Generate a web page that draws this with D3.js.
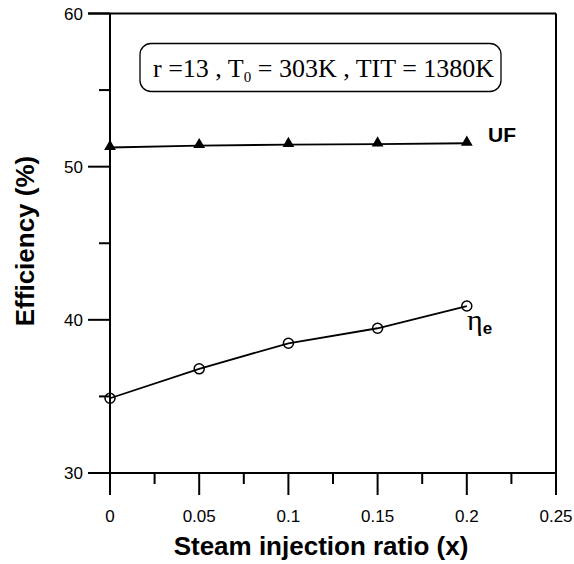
<!DOCTYPE html>
<html>
<head>
<meta charset="utf-8">
<script src="https://cdn.jsdelivr.net/npm/d3@7"></script>
<style>
  body { margin: 0; background: #fff; }
</style>
</head>
<body>
<svg id="svg" width="574" height="564" font-family="Arial, 'Liberation Sans', sans-serif"></svg>
<script>
// data
var steamRatio = [0, 0.05, 0.1, 0.15, 0.2];
var ufValues = [51.25, 51.37, 51.44, 51.47, 51.53];
var etaValues = [34.88, 36.8, 38.47, 39.45, 40.9];
var xTicks = [0, 0.05, 0.1, 0.15, 0.2, 0.25];
var yTicks = [30, 40, 50, 60];

var serif = "'Liberation Serif', 'Times New Roman', serif";
var svg = d3.select("#svg");
var x = d3.scaleLinear().domain([0, 0.25]).range([110, 556]);
var y = d3.scaleLinear().domain([30, 60]).range([473, 13.5]);

// frame
svg.append("line").attr("x1", 556).attr("x2", 556).attr("y1", y(60)).attr("y2", y(30))
  .attr("stroke", "#000").attr("stroke-width", 2);
svg.append("line").attr("x1", 88).attr("x2", 556).attr("y1", y(60)).attr("y2", y(60))
  .attr("stroke", "#000").attr("stroke-width", 2);

// bottom axis
var xAxis = svg.append("g").attr("transform", "translate(0," + y(30) + ")");
xAxis.append("line").attr("x1", 88).attr("x2", 556).attr("stroke", "#000").attr("stroke-width", 2);
d3.range(0, 11).forEach(function(i) {
  var v = i * 0.025;
  xAxis.append("line").attr("x1", x(v)).attr("x2", x(v)).attr("y1", 0)
    .attr("y2", i % 2 == 0 ? 22 : 11).attr("stroke", "#000").attr("stroke-width", 2);
});
xAxis.selectAll("text.tick").data(xTicks).enter().append("text")
  .attr("x", d => x(d)).attr("y", 49).attr("text-anchor", "middle")
  .attr("font-size", 17).text(d => d3.format("~g")(d));

// left axis
var yAxis = svg.append("g");
yAxis.append("line").attr("x1", 110).attr("x2", 110).attr("y1", y(60)).attr("y2", y(30))
  .attr("stroke", "#000").attr("stroke-width", 2);
d3.range(30, 61, 5).forEach(function(v) {
  yAxis.append("line").attr("x1", v % 10 == 0 ? 88 : 99).attr("x2", 110)
    .attr("y1", y(v)).attr("y2", y(v)).attr("stroke", "#000").attr("stroke-width", 2);
});
yAxis.selectAll("text.tick").data(yTicks).enter().append("text")
  .attr("x", 83).attr("y", d => y(d) + 6).attr("text-anchor", "end")
  .attr("font-size", 17).text(d => d);

// axis titles
svg.append("text").attr("x", 321).attr("y", 555).attr("text-anchor", "middle")
  .attr("font-size", 26).attr("font-weight", "bold").text("Steam injection ratio (x)");
svg.append("text").attr("transform", "translate(34,241) rotate(-90)")
  .attr("text-anchor", "middle").attr("font-size", 26).attr("font-weight", "bold")
  .text("Efficiency (%)");

// series
var line = d3.line().x((d, i) => x(steamRatio[i])).y(d => y(d));
svg.append("path").attr("d", line(ufValues)).attr("fill", "none")
  .attr("stroke", "#000").attr("stroke-width", 1.8);
svg.append("path").attr("d", line(etaValues)).attr("fill", "none")
  .attr("stroke", "#000").attr("stroke-width", 1.8);

var tri = d3.symbol().type(d3.symbolTriangle).size(60);
svg.selectAll("path.uf").data(ufValues).enter().append("path")
  .attr("d", tri).attr("transform", (d, i) => "translate(" + x(steamRatio[i]) + "," + (y(d) - 1) + ")")
  .attr("fill", "#000");
svg.selectAll("circle.eta").data(etaValues).enter().append("circle")
  .attr("cx", (d, i) => x(steamRatio[i])).attr("cy", d => y(d)).attr("r", 5)
  .attr("fill", "none").attr("stroke", "#000").attr("stroke-width", 1.5);

// series labels
svg.append("text").attr("x", 488).attr("y", 142).attr("font-size", 21)
  .attr("font-weight", "bold").text("UF");
var eta = svg.append("text").attr("x", 467).attr("y", 330);
eta.append("tspan").attr("font-family", serif).attr("font-size", 30).text("η");
eta.append("tspan").attr("font-size", 17).attr("font-weight", "bold").attr("dy", 4).text("e");

// annotation box
svg.append("rect").attr("x", 140).attr("y", 43.5).attr("width", 361).attr("height", 48)
  .attr("rx", 11).attr("fill", "none").attr("stroke", "#000").attr("stroke-width", 1.3);
var note = svg.append("text").attr("x", 153).attr("y", 77)
  .attr("font-family", serif).attr("font-size", 26);
note.append("tspan").text("r =13 , T");
note.append("tspan").attr("font-size", 15).attr("dy", 5).text("0");
note.append("tspan").attr("dy", -5).text(" = 303K , TIT = 1380K");
</script>
</body>
</html>
